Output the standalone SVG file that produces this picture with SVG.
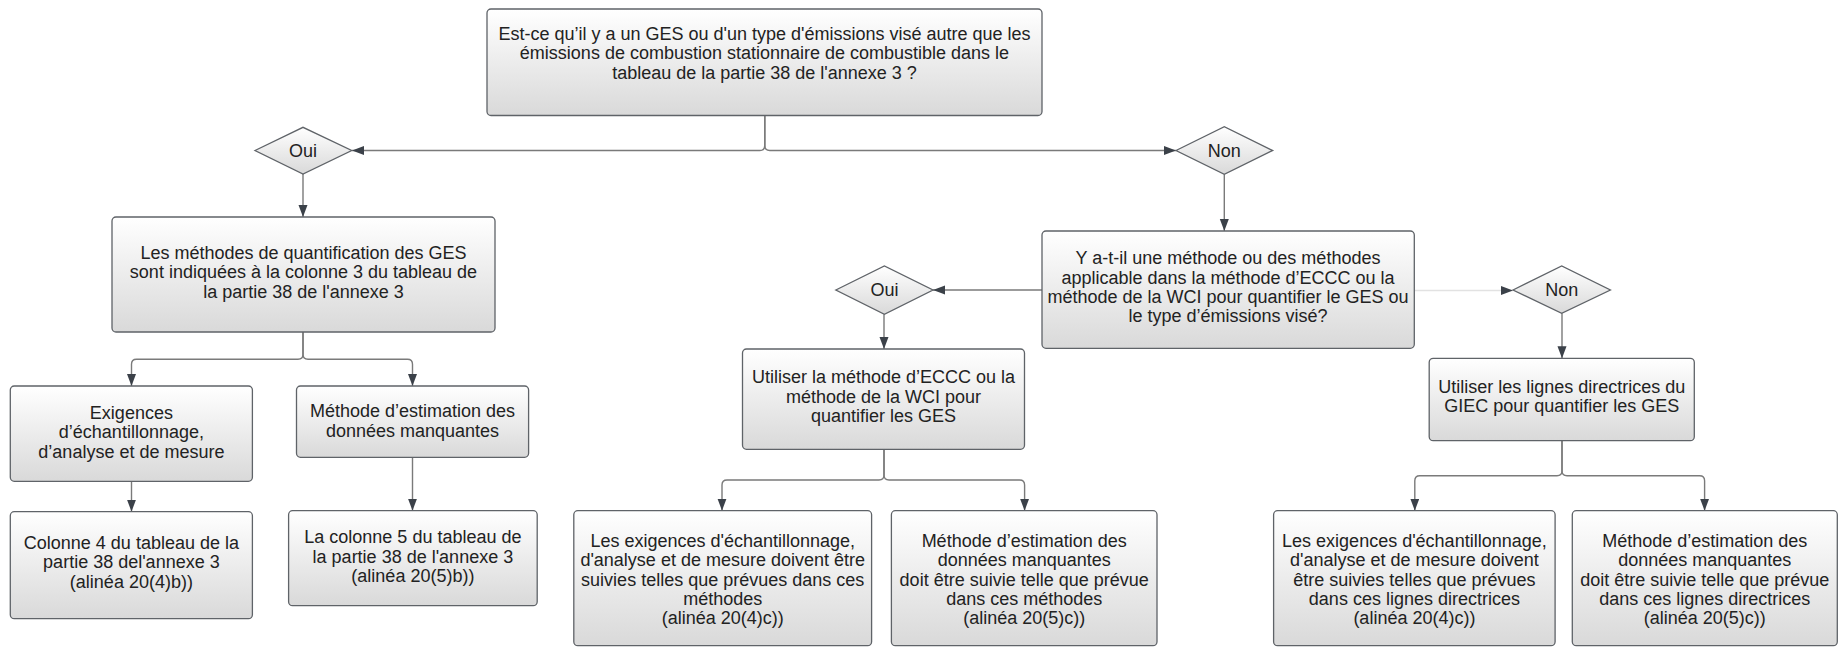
<svg xmlns="http://www.w3.org/2000/svg" width="1848" height="647" viewBox="0 0 1848 647">
  <defs>
    <linearGradient id="fillGrad" x1="0" y1="0" x2="0" y2="1">
      <stop offset="0" stop-color="#ffffff"/>
      <stop offset="1" stop-color="#d9d9d9"/>
    </linearGradient>
    <marker id="arrow" markerUnits="userSpaceOnUse" markerWidth="13" markerHeight="10" refX="12" refY="4.5" orient="auto">
      <path d="M0,0 L12,4.5 L0,9 z" fill="#3b4149"/>
    </marker>
    <style>
      .box { fill: url(#fillGrad); stroke: #5f6368; stroke-width: 1.3; }
      .dia { fill: url(#fillGrad); stroke: #5f6368; stroke-width: 1.3; }
      .lbl { font-family: "Liberation Sans", Arial, sans-serif; font-size: 18px; fill: #222222; text-anchor: middle; }
      .edge { fill: none; stroke: #7a7a7a; stroke-width: 1.4; marker-end: url(#arrow); }
      .edge.faint { stroke: #e2e2e2; }
    </style>
  </defs>

  <rect width="1848" height="647" fill="#ffffff"/>

  <!-- connectors -->
  <g id="connectors">
    <path class="edge" d="M764.8,115.5 V145.5 Q764.8,150.5 759.8,150.5 H352"/>
    <path class="edge" d="M764.8,115.5 V145.5 Q764.8,150.5 769.8,150.5 H1176"/>
    <path class="edge" d="M303,174 V217"/>
    <path class="edge" d="M303,332 V354.3 Q303,359.3 298,359.3 H136.5 Q131.5,359.3 131.5,364.3 V386"/>
    <path class="edge" d="M303,332 V354.3 Q303,359.3 308,359.3 H407.5 Q412.5,359.3 412.5,364.3 V386"/>
    <path class="edge" d="M131.5,481.3 V511.7"/>
    <path class="edge" d="M412.5,457.3 V510.7"/>
    <path class="edge" d="M1224.3,174.3 V231"/>
    <path class="edge" d="M1042,290 H933"/>
    <path class="edge faint" d="M1414.3,290.5 H1513"/>
    <path class="edge" d="M884,314.3 V349"/>
    <path class="edge" d="M884,449.3 V475 Q884,480 879,480 H727 Q722,480 722,485 V510.7"/>
    <path class="edge" d="M884,449.3 V475 Q884,480 889,480 H1019.6 Q1024.6,480 1024.6,485 V510.7"/>
    <path class="edge" d="M1562,313.3 V358.3"/>
    <path class="edge" d="M1562,440.7 V470.7 Q1562,475.7 1557,475.7 H1419.8 Q1414.8,475.7 1414.8,480.7 V510.7"/>
    <path class="edge" d="M1562,440.7 V470.7 Q1562,475.7 1567,475.7 H1699.6 Q1704.6,475.7 1704.6,480.7 V510.7"/>
  </g>

  <!-- top question -->
  <g id="q-main">
    <rect class="box" x="487" y="9" width="555" height="106.5" rx="4"/>
    <text class="lbl" x="764.5" y="39.5">Est-ce qu’il y a un GES ou d'un type d'émissions visé autre que les</text>
    <text class="lbl" x="764.5" y="59">émissions de combustion stationnaire de combustible dans le</text>
    <text class="lbl" x="764.5" y="78.5">tableau de la partie 38 de l'annexe 3 ?</text>
  </g>

  <g id="d-oui-1">
    <polygon class="dia" points="255,150.5 303,127.3 351.7,150.5 303,174"/>
    <text class="lbl" x="303" y="156.5">Oui</text>
  </g>

  <g id="d-non-1">
    <polygon class="dia" points="1176,150.5 1224.3,126.7 1272.7,150.5 1224.3,174.3"/>
    <text class="lbl" x="1224.3" y="156.5">Non</text>
  </g>

  <!-- left branch -->
  <g id="n-methodes-col3">
    <rect class="box" x="112" y="217" width="383" height="115" rx="4"/>
    <text class="lbl" x="303.5" y="259">Les méthodes de quantification des GES</text>
    <text class="lbl" x="303.5" y="278.3">sont indiquées à la colonne 3 du tableau de</text>
    <text class="lbl" x="303.5" y="297.6">la partie 38 de l'annexe 3</text>
  </g>

  <g id="n-exigences-1">
    <rect class="box" x="10.3" y="386" width="242.1" height="95.3" rx="4"/>
    <text class="lbl" x="131.4" y="418.7">Exigences</text>
    <text class="lbl" x="131.4" y="438.2">d’échantillonnage,</text>
    <text class="lbl" x="131.4" y="457.7">d’analyse et de mesure</text>
  </g>

  <g id="n-estimation-1">
    <rect class="box" x="296.5" y="386" width="232.1" height="71.3" rx="4"/>
    <text class="lbl" x="412.5" y="417">Méthode d’estimation des</text>
    <text class="lbl" x="412.5" y="436.5">données manquantes</text>
  </g>

  <g id="n-colonne4">
    <rect class="box" x="10.3" y="511.7" width="242.1" height="107" rx="4"/>
    <text class="lbl" x="131.4" y="548.7">Colonne 4 du tableau de la</text>
    <text class="lbl" x="131.4" y="568.2">partie 38 del'annexe 3</text>
    <text class="lbl" x="131.4" y="587.7">(alinéa 20(4)b))</text>
  </g>

  <g id="n-colonne5">
    <rect class="box" x="288.6" y="510.7" width="248.6" height="95" rx="4"/>
    <text class="lbl" x="412.9" y="543.3">La colonne 5 du tableau de</text>
    <text class="lbl" x="412.9" y="562.8">la partie 38 de l'annexe 3</text>
    <text class="lbl" x="412.9" y="582.3">(alinéa 20(5)b))</text>
  </g>

  <!-- right branch -->
  <g id="q-methode">
    <rect class="box" x="1042" y="231" width="372.3" height="117.3" rx="4"/>
    <text class="lbl" x="1228" y="264.3">Y a-t-il une méthode ou des méthodes</text>
    <text class="lbl" x="1228" y="283.6">applicable dans la méthode d’ECCC ou la</text>
    <text class="lbl" x="1228" y="303">méthode de la WCI pour quantifier le GES ou</text>
    <text class="lbl" x="1228" y="322.3">le type d’émissions visé?</text>
  </g>

  <g id="d-oui-2">
    <polygon class="dia" points="835.8,290 884.4,266 933,290 884.4,314.3"/>
    <text class="lbl" x="884.4" y="296">Oui</text>
  </g>

  <g id="d-non-2">
    <polygon class="dia" points="1513,290 1561.7,266 1610.4,290 1561.7,313.3"/>
    <text class="lbl" x="1561.7" y="296">Non</text>
  </g>

  <g id="n-eccc-wci">
    <rect class="box" x="742.5" y="349" width="282" height="100.3" rx="4"/>
    <text class="lbl" x="883.5" y="383">Utiliser la méthode d’ECCC ou la</text>
    <text class="lbl" x="883.5" y="402.5">méthode de la WCI pour</text>
    <text class="lbl" x="883.5" y="422">quantifier les GES</text>
  </g>

  <g id="n-giec">
    <rect class="box" x="1429.2" y="358.3" width="265.1" height="82.4" rx="4"/>
    <text class="lbl" x="1561.8" y="392.5">Utiliser les lignes directrices du</text>
    <text class="lbl" x="1561.8" y="412">GIEC pour quantifier les GES</text>
  </g>

  <g id="n-exigences-2">
    <rect class="box" x="573.8" y="510.7" width="297.8" height="135" rx="4"/>
    <text class="lbl" x="722.7" y="547">Les exigences d'échantillonnage,</text>
    <text class="lbl" x="722.7" y="566.3">d'analyse et de mesure doivent être</text>
    <text class="lbl" x="722.7" y="585.6">suivies telles que prévues dans ces</text>
    <text class="lbl" x="722.7" y="604.9">méthodes</text>
    <text class="lbl" x="722.7" y="624.2">(alinéa 20(4)c))</text>
  </g>

  <g id="n-estimation-2">
    <rect class="box" x="891.4" y="510.7" width="265.6" height="135" rx="4"/>
    <text class="lbl" x="1024.2" y="547">Méthode d’estimation des</text>
    <text class="lbl" x="1024.2" y="566.3">données manquantes</text>
    <text class="lbl" x="1024.2" y="585.6">doit être suivie telle que prévue</text>
    <text class="lbl" x="1024.2" y="604.9">dans ces méthodes</text>
    <text class="lbl" x="1024.2" y="624.2">(alinéa 20(5)c))</text>
  </g>

  <g id="n-exigences-3">
    <rect class="box" x="1273.6" y="510.7" width="281.5" height="135" rx="4"/>
    <text class="lbl" x="1414.4" y="547">Les exigences d'échantillonnage,</text>
    <text class="lbl" x="1414.4" y="566.3">d'analyse et de mesure doivent</text>
    <text class="lbl" x="1414.4" y="585.6">être suivies telles que prévues</text>
    <text class="lbl" x="1414.4" y="604.9">dans ces lignes directrices</text>
    <text class="lbl" x="1414.4" y="624.2">(alinéa 20(4)c))</text>
  </g>

  <g id="n-estimation-3">
    <rect class="box" x="1572.3" y="510.7" width="265" height="135" rx="4"/>
    <text class="lbl" x="1704.8" y="547">Méthode d’estimation des</text>
    <text class="lbl" x="1704.8" y="566.3">données manquantes</text>
    <text class="lbl" x="1704.8" y="585.6">doit être suivie telle que prévue</text>
    <text class="lbl" x="1704.8" y="604.9">dans ces lignes directrices</text>
    <text class="lbl" x="1704.8" y="624.2">(alinéa 20(5)c))</text>
  </g>
</svg>
